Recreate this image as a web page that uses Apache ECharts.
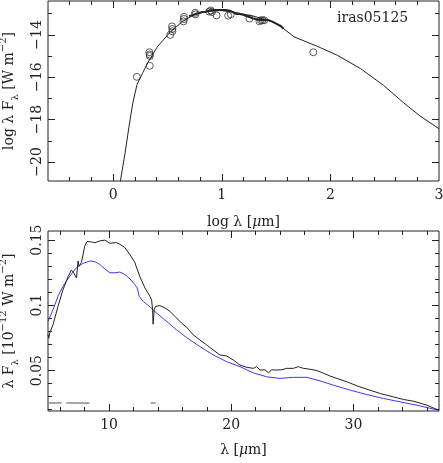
<!DOCTYPE html>
<html>
<head>
<meta charset="utf-8">
<script src="https://cdn.jsdelivr.net/npm/echarts@6/dist/echarts.min.js"></script>
<style>
html, body { margin: 0; padding: 0; background: #fff; }
#main { width: 443px; height: 463px; }
</style>
</head>
<body>
<div id="main"></div>
<script>
// top panel: SED model (log lambda vs log lambda F_lambda)
var sedLogLam = [0.055, 0.067, 0.11, 0.144, 0.181, 0.22, 0.272, 0.318, 0.41, 0.532, 0.64, 0.747, 0.869, 0.991, 1.113, 1.297, 1.481, 1.573, 1.665, 1.879, 2.063, 2.277, 2.491, 2.675, 2.828, 3.0];
var sedLogF = [-21.3, -20.89, -19.57, -18.39, -17.21, -16.34, -15.79, -15.32, -14.54, -13.83, -13.36, -13.04, -12.89, -12.85, -12.93, -13.12, -13.41, -13.72, -14.09, -14.54, -14.96, -15.59, -16.39, -17.21, -17.84, -18.43];

// photometry (circles)
var photLogLam = [0.218, 0.333, 0.337, 0.337, 0.337, 0.542, 0.545, 0.545, 0.526, 0.652, 0.652, 0.647, 0.755, 0.758, 0.899, 0.884, 0.91, 0.952, 1.059, 1.083, 1.255, 1.347, 1.36, 1.375, 1.39, 1.843];
var photLogF = [-15.98, -14.82, -14.93, -15.0, -15.46, -13.6, -13.72, -13.83, -14.0, -13.15, -13.25, -13.36, -12.96, -13.03, -12.85, -12.9, -12.92, -13.08, -13.09, -13.03, -13.23, -13.36, -13.31, -13.31, -13.31, -14.82];

// bottom panel: observed spectrum (black), 10^-12 W m^-2
var specLam = [5.0, 5.06, 5.14, 5.41, 5.82, 6.23, 6.64, 6.92, 7.1, 7.33, 7.46, 7.54, 7.74, 8.01, 8.2, 8.56, 8.83, 9.24, 9.65, 10.06, 10.6, 10.88, 11.29, 11.7, 12.1, 12.52, 12.93, 13.34, 13.48, 13.56, 13.6, 13.69, 13.8, 14.16, 14.57, 14.98, 15.39, 15.93, 16.34, 16.89, 17.43, 17.98, 18.52, 19.07, 19.62, 20.16, 20.71, 21.26, 21.8, 22.08, 22.35, 22.76, 23.03, 23.31, 23.72, 24.13, 24.54, 25.08, 25.49, 25.9, 26.45, 27.0, 27.54, 28.09, 28.64, 29.46, 30.28, 31.1, 32.19, 33.28, 34.1, 34.92, 36.02, 37.0];
var specFlux = [0.0775, 0.0748, 0.0787, 0.0851, 0.0992, 0.112, 0.122, 0.127, 0.125, 0.121, 0.134, 0.130, 0.133, 0.1455, 0.149, 0.1486, 0.148, 0.1494, 0.150, 0.1476, 0.1481, 0.1468, 0.1443, 0.139, 0.133, 0.122, 0.1134, 0.107, 0.104, 0.0967, 0.0856, 0.0967, 0.0992, 0.0998, 0.098, 0.0954, 0.0915, 0.0864, 0.0833, 0.0774, 0.0735, 0.0697, 0.0658, 0.062, 0.0612, 0.0581, 0.0542, 0.0525, 0.0517, 0.053, 0.0504, 0.0506, 0.0483, 0.0506, 0.0504, 0.0506, 0.0517, 0.0517, 0.053, 0.0517, 0.051, 0.050, 0.048, 0.0458, 0.044, 0.0414, 0.0383, 0.0357, 0.0324, 0.0298, 0.0278, 0.0265, 0.0234, 0.0195];

// model spectrum (blue)
var modelLam = [5.0, 5.14, 5.41, 5.82, 6.23, 6.78, 7.33, 7.87, 8.42, 8.83, 9.24, 9.65, 10.06, 10.47, 10.88, 11.29, 11.7, 12.1, 12.3, 12.46, 12.79, 13.34, 13.89, 14.7, 15.52, 16.34, 17.43, 18.52, 19.62, 20.71, 21.8, 22.9, 23.99, 25.08, 26.18, 27.27, 28.36, 29.73, 31.1, 32.46, 33.83, 35.2, 37.0];
var modelFlux = [0.0875, 0.089, 0.0967, 0.107, 0.1147, 0.1224, 0.1289, 0.1322, 0.134, 0.1335, 0.1314, 0.128, 0.125, 0.125, 0.1255, 0.1237, 0.1204, 0.116, 0.1134, 0.107, 0.1031, 0.0988, 0.0941, 0.0877, 0.0812, 0.0753, 0.0684, 0.062, 0.0568, 0.053, 0.0483, 0.0452, 0.044, 0.0448, 0.0448, 0.0421, 0.0388, 0.035, 0.0316, 0.0286, 0.026, 0.0234, 0.0195];

// grey gap bars under the spectrum
var gapSegs = [[5.0, 6.1], [6.5, 8.4], [13.4, 13.8]];
var gapLevel = 0.0252;

// ticks
var topXMinor = [-0.4, -0.2, 0, 0.2, 0.4, 0.6, 0.8, 1, 1.2, 1.4, 1.6, 1.8, 2, 2.2, 2.4, 2.6, 2.8];
var topXMajor = [0, 1, 2];
var topXLabels = [0, 1, 2, 3];
var topYMinor = [-20, -19, -18, -17, -16, -15, -14, -13];
var topYMajor = [-20, -18, -16, -14];
var botXMinor = [6, 8, 10, 12, 14, 16, 18, 20, 22, 24, 26, 28, 30, 32, 34, 36];
var botXMajor = [10, 20, 30];
var botYMinor = [0.02, 0.03, 0.04, 0.05, 0.06, 0.07, 0.08, 0.09, 0.1, 0.11, 0.12, 0.13, 0.14, 0.15];
var botYMajor = [0.05, 0.1, 0.15];

var FONT = 'DejaVu Serif';
var INK = '#222';

var rich = {
    n: {fontFamily: FONT, fontSize: 14, color: INK, lineHeight: 22},
    i: {fontFamily: FONT, fontSize: 14, color: INK, lineHeight: 22, fontStyle: 'italic'},
    sb: {fontFamily: FONT, fontSize: 10, color: INK, lineHeight: 10, verticalAlign: 'bottom'},
    sp: {fontFamily: FONT, fontSize: 10, color: INK, lineHeight: 10, verticalAlign: 'top'}
};

function fmt(v) {
    return String(v).replace('-', '\u2212');
}

// two axes per dimension (bottom/top or left/right) with inward ticks;
// labels and name only when given
function xAxes(grid, min, max, ticks, len, labels, name, gap) {
    var base = {
        type: 'value', gridIndex: grid, min: min, max: max,
        axisLine: {show: false, onZero: false}, splitLine: {show: false},
        axisTick: {inside: true, length: len, customValues: ticks, lineStyle: {color: INK}},
        axisLabel: {show: false}
    };
    var bottom = Object.assign({}, base, {position: 'bottom'});
    if (labels) {
        bottom.axisLabel = {customValues: labels, margin: 7, color: INK, fontFamily: FONT, fontSize: 14, formatter: fmt};
        bottom.name = name;
        bottom.nameLocation = 'middle';
        bottom.nameGap = gap;
        bottom.nameTextStyle = {rich: rich};
    }
    var top = Object.assign({}, base, {position: 'top'});
    return [bottom, top];
}

function yAxes(grid, min, max, ticks, len, labels, name, gap) {
    var base = {
        type: 'value', gridIndex: grid, min: min, max: max,
        axisLine: {show: false, onZero: false}, splitLine: {show: false},
        axisTick: {inside: true, length: len, customValues: ticks, lineStyle: {color: INK}},
        axisLabel: {show: false}
    };
    var left = Object.assign({}, base, {position: 'left'});
    if (labels) {
        left.axisLabel = {customValues: labels, rotate: 90, margin: 4, color: INK, fontFamily: FONT, fontSize: 14, formatter: fmt};
        left.name = name;
        left.nameLocation = 'middle';
        left.nameGap = gap;
        left.nameRotate = 90;
        left.nameTextStyle = {rich: rich};
    }
    var right = Object.assign({}, base, {position: 'right'});
    return [left, right];
}

function pairs(xs, ys) {
    return xs.map(function (x, i) { return [x, ys[i]]; });
}

var myChart = echarts.init(document.getElementById('main'));

// grids 0/2 carry the data and minor ticks, grids 1/3 sit on top with the long major ticks
var xAxis = [].concat(
    xAxes(0, -0.6, 3, topXMinor, 4, topXLabels, '{n|log λ [}{i|μ}{n|m]}', 30),
    xAxes(1, -0.6, 3, topXMajor, 7),
    xAxes(2, 5, 37, botXMinor, 4, botXMajor, '{n|λ [}{i|μ}{n|m]}', 28),
    xAxes(3, 5, 37, botXMajor, 7)
);
var yAxis = [].concat(
    yAxes(0, -20.9, -12.4, topYMinor, 4, topYMajor, '{n|log λ F}{sb|λ}{n| [W m}{sp|−2}{n|]}', 28),
    yAxes(1, -20.9, -12.4, topYMajor, 7),
    yAxes(2, 0.019, 0.157, botYMinor, 4, botYMajor, '{n|λ F}{sb|λ}{n| [10}{sp|−12}{n| W m}{sp|−2}{n|]}', 28),
    yAxes(3, 0.019, 0.157, botYMajor, 7)
);

var series = [
    {
        type: 'line', xAxisIndex: 0, yAxisIndex: 0, symbol: 'none',
        lineStyle: {color: INK, width: 1},
        data: pairs(sedLogLam, sedLogF)
    },
    {
        // observed spectrum shown in log form on the SED
        type: 'line', xAxisIndex: 0, yAxisIndex: 0, symbol: 'none',
        lineStyle: {color: INK, width: 2},
        data: specLam.map(function (l, i) { return [Math.log10(l), Math.log10(specFlux[i]) - 12]; })
    },
    {
        type: 'scatter', xAxisIndex: 0, yAxisIndex: 0, symbol: 'circle', symbolSize: 7,
        itemStyle: {color: 'rgba(0,0,0,0)', borderColor: '#333', borderWidth: 1},
        data: pairs(photLogLam, photLogF)
    },
    {
        type: 'line', xAxisIndex: 4, yAxisIndex: 4, symbol: 'none',
        lineStyle: {color: '#3a3aff', width: 1},
        data: pairs(modelLam, modelFlux)
    },
    {
        type: 'line', xAxisIndex: 4, yAxisIndex: 4, symbol: 'none',
        lineStyle: {color: INK, width: 1},
        data: pairs(specLam, specFlux)
    }
];
gapSegs.forEach(function (s) {
    series.push({
        type: 'line', xAxisIndex: 4, yAxisIndex: 4, symbol: 'none',
        lineStyle: {color: '#888', width: 1.5},
        data: [[s[0], gapLevel], [s[1], gapLevel]]
    });
});

var gridBase = {outerBoundsMode: 'none', containLabel: false};
var boxStyle = {show: true, borderColor: INK, borderWidth: 1, backgroundColor: 'transparent'};
var topRect = {left: 48, top: 1, width: 391, height: 180};
var botRect = {left: 48, top: 231, width: 391, height: 180};

var option = {
    animation: false,
    backgroundColor: '#fff',
    grid: [
        Object.assign({}, gridBase, boxStyle, topRect),
        Object.assign({}, gridBase, topRect),
        Object.assign({}, gridBase, boxStyle, botRect),
        Object.assign({}, gridBase, botRect)
    ],
    xAxis: xAxis,
    yAxis: yAxis,
    graphic: [{
        type: 'text', left: 337, top: 11,
        style: {text: 'iras05125', fontFamily: FONT, fontSize: 14, fill: INK}
    }],
    series: series
};
myChart.setOption(option);
</script>
</body>
</html>
